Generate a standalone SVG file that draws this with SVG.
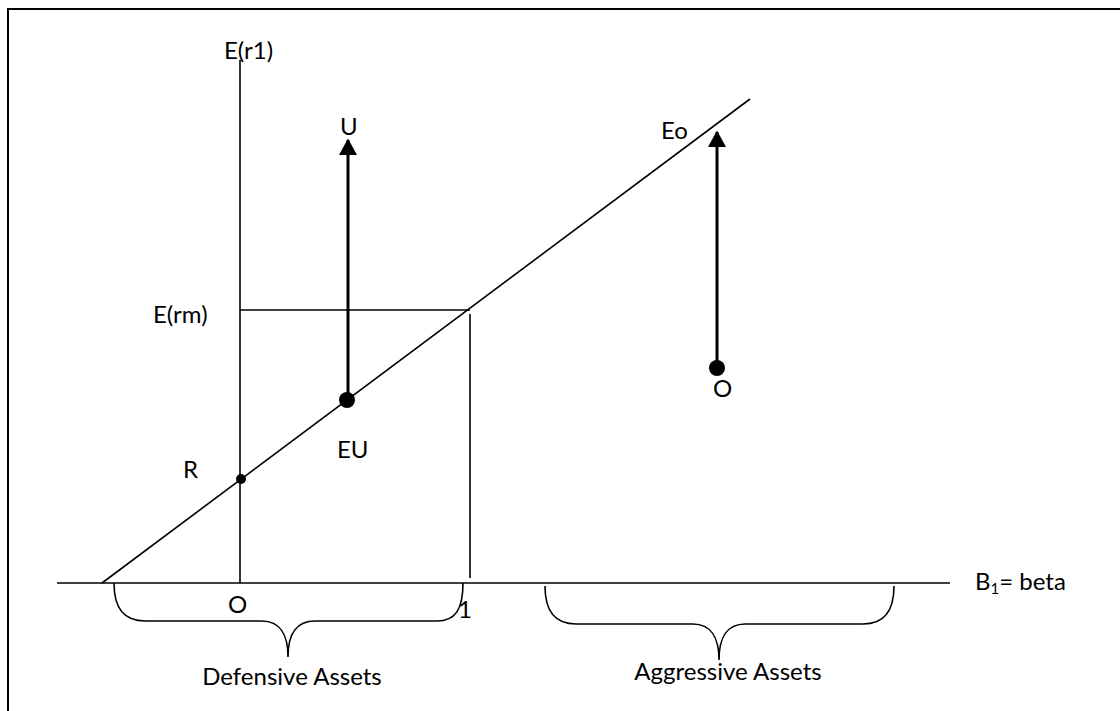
<svg xmlns="http://www.w3.org/2000/svg" width="1120" height="711" viewBox="0 0 1120 711">
<style>
.ln{stroke:#000;stroke-width:1.6;fill:none}
.ar{stroke:#000;stroke-width:3;fill:none}
.br{stroke:#000;stroke-width:1.6;fill:none}
text{font-family:Lato,"Open Sans","Liberation Sans",sans-serif;font-size:24px;fill:#000}
</style>
<defs>
<marker id="ah" markerWidth="6" markerHeight="6" refX="5" refY="3" orient="auto" markerUnits="strokeWidth">
<path d="M0,0 L5.5,3 L0,6 Z" fill="#000"/>
</marker>
</defs>
<rect x="8" y="9" width="1130" height="720" fill="#fff" stroke="#000" stroke-width="2"/>
<g id="axes">
<line class="ln" x1="240" y1="60" x2="240" y2="583"/>
<line class="ln" x1="57" y1="583" x2="950" y2="583"/>
<text x="224" y="59">E(r1)</text>
<text x="975" y="590">B<tspan font-size="15" dy="4">1</tspan><tspan dy="-4">= beta</tspan></text>
<text x="228" y="613">O</text>
<text x="458" y="618">1</text>
</g>
<g id="sml">
<line class="ln" x1="102" y1="583" x2="750" y2="99"/>
</g>
<g id="market">
<line class="ln" x1="240" y1="310" x2="470" y2="310"/>
<line class="ln" x1="470" y1="314" x2="470" y2="578"/>
<text x="153" y="323">E(rm)</text>
</g>
<g id="R">
<circle cx="241" cy="479" r="5" fill="#000"/>
<text x="183" y="478">R</text>
</g>
<g id="connectors">
<line class="ar" x1="348" y1="400" x2="348" y2="140" marker-end="url(#ah)"/>
<line class="ar" x1="717" y1="368" x2="717" y2="132" marker-end="url(#ah)"/>
</g>
<g id="EU">
<circle cx="347" cy="400" r="8" fill="#000"/>
<text x="337" y="458">EU</text>
</g>
<g id="U">
<text x="340" y="135">U</text>
</g>
<g id="Eo">
<text x="661" y="139">Eo</text>
</g>
<g id="O">
<circle cx="717" cy="368" r="8" fill="#000"/>
<text x="713" y="397">O</text>
</g>
<g id="defensive">
<path class="br" d="M114,583 C114,610 125,621 145,621 L262,621 C280,621 288,635 288,657 C288,635 296,621 315,621 L437,621 C455,621 463,610 463,583"/>
<text x="292" y="685" text-anchor="middle">Defensive Assets</text>
</g>
<g id="aggressive">
<path class="br" d="M545,586 C545,613 556,624 576,624 L693,624 C711,624 719,638 719,660 C719,638 727,624 745,624 L863,624 C883,624 894,613 894,586"/>
<text x="728" y="680" text-anchor="middle">Aggressive Assets</text>
</g>
</svg>
